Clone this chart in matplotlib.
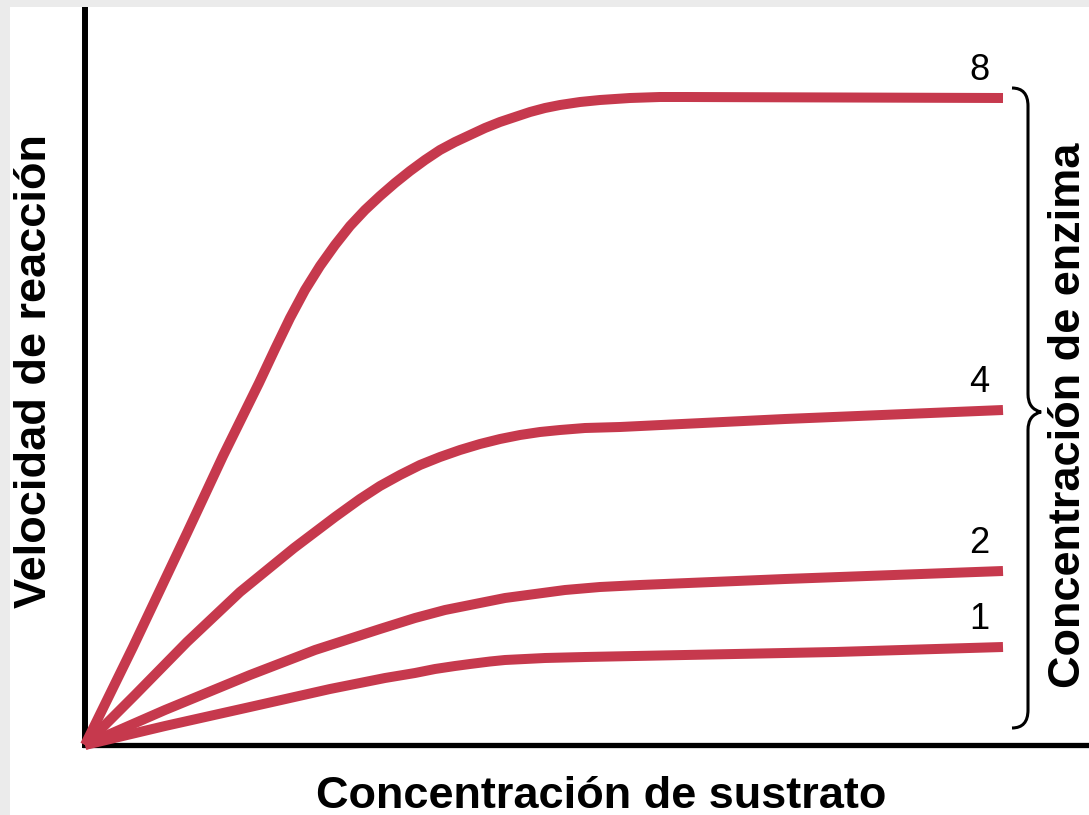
import matplotlib
matplotlib.use("Agg")
import matplotlib.pyplot as plt
from matplotlib.path import Path
from matplotlib.patches import PathPatch, Rectangle

# ---- data ----
x8 = [0, 4.8, 10.2, 13.8, 17.4, 19.0, 20.5, 22.0, 23.5, 25.0, 26.5, 28.0, 29.5, 31.0,
      32.5, 34.0, 35.5, 37.0, 38.5, 40.0, 41.5, 43.0, 44.5, 46.0, 47.5, 49.5, 51.5,
      54.5, 57.5, 60, 91.8]
y8 = [0, 9.8, 21.2, 28.9, 36.2, 39.6, 42.7, 45.5, 47.9, 50.0, 51.9, 53.5, 54.9, 56.2,
      57.4, 58.5, 59.5, 60.3, 61.0, 61.7, 62.3, 62.8, 63.3, 63.7, 64.0, 64.3, 64.5,
      64.7, 64.8, 64.8, 64.7]

x4 = [0, 5, 10.2, 15.5, 20.9, 25, 27.5, 29.5, 31.5, 33.5, 35.5, 37.5, 39.5, 41.5,
      43.5, 45.5, 47.5, 50, 53.5, 70, 91.8]
y4 = [0, 5.0, 10.3, 15.3, 19.7, 22.8, 24.6, 25.9, 27.0, 28.0, 28.8, 29.5, 30.1, 30.6,
      31.0, 31.3, 31.5, 31.7, 31.8, 32.6, 33.5]

x2 = [0, 8, 16.5, 23, 29.5, 33, 36, 39.5, 42, 45, 48, 51.5, 55.5, 70, 91.8]
y2 = [0, 3.5, 7.0, 9.5, 11.6, 12.7, 13.5, 14.2, 14.7, 15.1, 15.5, 15.8, 16.0, 16.6, 17.4]

x1 = [0, 8, 16.5, 24.5, 30, 33, 35, 37, 38.5, 40.5, 42, 44, 46, 50, 55, 75, 91.8]
y1 = [0, 1.9, 3.8, 5.6, 6.7, 7.2, 7.6, 7.9, 8.1, 8.35, 8.5, 8.6, 8.7, 8.8, 8.9, 9.3, 9.8]

curve_labels = ["8", "4", "2", "1"]
xlabel = "Concentración de sustrato"
ylabel = "Velocidad de reacción"
bracelabel = "Concentración de enzima"

# ---- figure ----
W, H = 1089, 815
fig = plt.figure(figsize=(W / 100, H / 100), dpi=100, facecolor="white")
plt.rcParams["font.family"] = ["Liberation Sans", "DejaVu Sans"]

# light gray frame strips (left and top)
fig.patches.append(Rectangle((0, 0), 10 / W, 1, transform=fig.transFigure,
                             facecolor="#ebebeb", edgecolor="none", zorder=0))
fig.patches.append(Rectangle((0, 1 - 7 / H), 1, 7 / H, transform=fig.transFigure,
                             facecolor="#ebebeb", edgecolor="none", zorder=0))

ax = fig.add_axes([85 / W, 70 / H, 1 - 85 / W, (745 - 7) / H])
ax.set_xlim(0, (W - 85) / 10)
ax.set_ylim(0, (745 - 7) / 10)
ax.patch.set_alpha(0)
for s in ["top", "right"]:
    ax.spines[s].set_visible(False)
ax.spines["left"].set_linewidth(4.3)
ax.spines["bottom"].set_linewidth(3.8)
ax.spines["left"].set_color("black")
ax.spines["bottom"].set_color("black")
ax.set_xticks([])
ax.set_yticks([])

red = "#c6394d"
series = [(x8, y8), (x4, y4), (x2, y2), (x1, y1)]
for (xs, ys), lab in zip(series, curve_labels):
    ax.plot(xs, ys, color=red, lw=7.2, solid_capstyle="butt",
            solid_joinstyle="round", clip_on=False, zorder=3)
    ax.text(xs[-1] - 2.4, ys[-1] + 1.8, lab, fontsize=26, ha="center",
            va="baseline", color="black")

# curly brace
xb0, xb1, xtip = 92.7, 94.3, 95.6
ytop, ymid, ybot = 65.7, 33.3, 1.7
verts = [
    (xb0, ytop), (xb1, ytop), (xb1, ytop - 1.8),
    (xb1, ymid + 1.8),
    (xb1, ymid + 0.3), (xtip, ymid),
    (xb1, ymid - 0.3), (xb1, ymid - 1.8),
    (xb1, ybot + 1.8),
    (xb1, ybot), (xb0, ybot),
]
codes = [Path.MOVETO, Path.CURVE3, Path.CURVE3,
         Path.LINETO,
         Path.CURVE3, Path.CURVE3,
         Path.CURVE3, Path.CURVE3,
         Path.LINETO,
         Path.CURVE3, Path.CURVE3]
ax.add_patch(PathPatch(Path(verts, codes), facecolor="none", edgecolor="black",
                       lw=2.2, clip_on=False, zorder=3))

# axis labels
fig.text(601 / W, 1 - 796 / H, xlabel, fontsize=32.5, fontweight="bold",
         ha="center", va="center")
fig.text(35 / W, 1 - 371 / H, ylabel, fontsize=32.5, fontweight="bold",
         ha="center", va="center", rotation=90)
fig.text(1068 / W, 1 - 415 / H, bracelabel, fontsize=32.5, fontweight="bold",
         ha="center", va="center", rotation=90)

fig.savefig("out.png", dpi=100, facecolor="white")
